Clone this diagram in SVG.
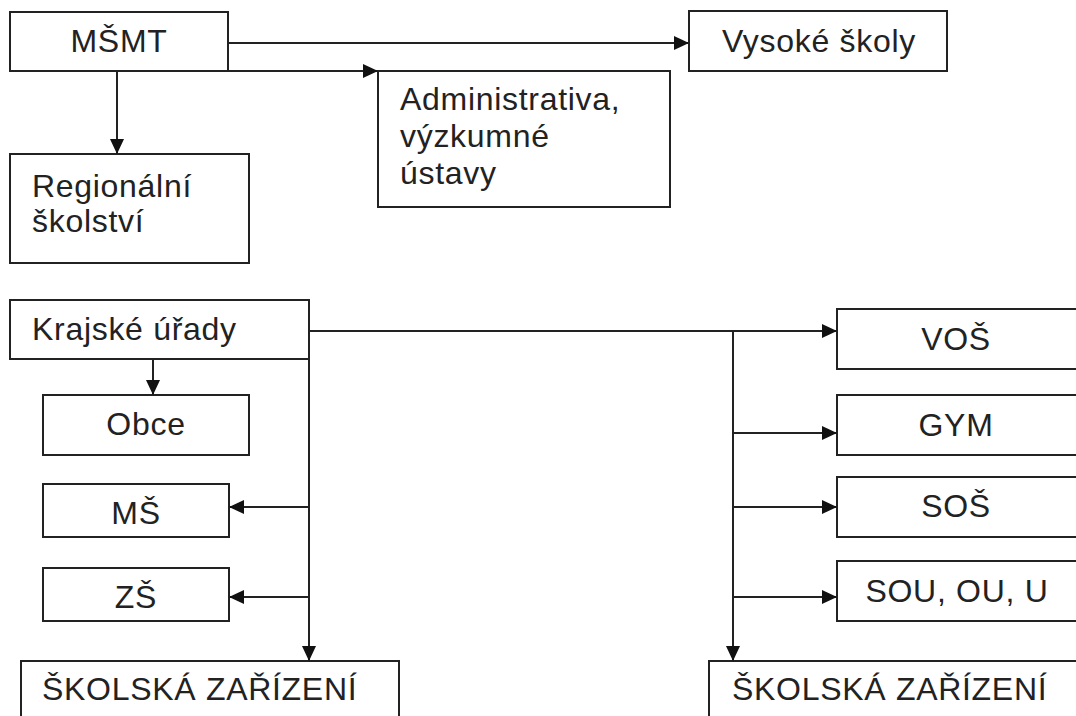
<svg xmlns="http://www.w3.org/2000/svg" width="1076" height="716" viewBox="0 0 1076 716">
<style>
.box{fill:#fff;stroke:#222;stroke-width:2}
.t{font-family:"Liberation Sans",Arial,sans-serif;font-size:32px;fill:#222;letter-spacing:0.7px}
.c{text-anchor:middle}
.ln{fill:none;stroke:#222;stroke-width:2}
</style>
<defs>
<marker id="ah" markerUnits="userSpaceOnUse" markerWidth="15" markerHeight="14" refX="15" refY="7" orient="auto">
<path d="M0,0 L15,7 L0,14 Z" fill="#111"/>
</marker>
</defs>
<rect width="1076" height="716" fill="#fff"/>
<g id="msmt"><rect class="box" x="10" y="12" width="218" height="59"/><text class="t c" x="119" y="52">MŠMT</text></g>
<g id="vysoke"><rect class="box" x="689" y="11" width="258" height="60"/><text class="t" x="722" y="52">Vysoké školy</text></g>
<g id="admin"><rect class="box" x="378" y="71" width="292" height="136"/><text class="t" x="400" y="110">Administrativa,</text><text class="t" x="400" y="147">výzkumné</text><text class="t" x="400" y="184">ústavy</text></g>
<g id="regional"><rect class="box" x="10" y="154" width="239" height="109"/><text class="t" x="32" y="197">Regionální</text><text class="t" x="32" y="232">školství</text></g>
<g id="krajske"><rect class="box" x="10" y="300" width="299" height="59"/><text class="t" x="32" y="340">Krajské úřady</text></g>
<g id="obce"><rect class="box" x="43" y="395" width="206" height="60"/><text class="t c" x="146" y="435">Obce</text></g>
<g id="ms"><rect class="box" x="43" y="484" width="186" height="53"/><text class="t c" x="136" y="524">MŠ</text></g>
<g id="zs"><rect class="box" x="43" y="568" width="186" height="53"/><text class="t c" x="136" y="608">ZŠ</text></g>
<g id="skolska-left"><rect class="box" x="21" y="661" width="378" height="70"/><text class="t" x="42" y="700">ŠKOLSKÁ ZAŘÍZENÍ</text></g>
<g id="vos"><rect class="box" x="837" y="309" width="250" height="60"/><text class="t c" x="956" y="350">VOŠ</text></g>
<g id="gym"><rect class="box" x="837" y="395" width="250" height="60"/><text class="t c" x="956" y="436">GYM</text></g>
<g id="sos"><rect class="box" x="837" y="477" width="250" height="60"/><text class="t c" x="956" y="517">SOŠ</text></g>
<g id="sou"><rect class="box" x="837" y="561" width="250" height="60"/><text class="t c" x="957" y="602">SOU, OU, U</text></g>
<g id="skolska-right"><rect class="box" x="709" y="661" width="380" height="70"/><text class="t" x="732" y="700">ŠKOLSKÁ ZAŘÍZENÍ</text></g>
<g id="connectors">
<path class="ln" d="M228,43 H689" marker-end="url(#ah)"/>
<path class="ln" d="M228,71 H378" marker-end="url(#ah)"/>
<path class="ln" d="M117,71 V154" marker-end="url(#ah)"/>
<path class="ln" d="M153,359 V395" marker-end="url(#ah)"/>
<path class="ln" d="M309,331 H837" marker-end="url(#ah)"/>
<path class="ln" d="M309,359 V661" marker-end="url(#ah)"/>
<path class="ln" d="M309,507 H229" marker-end="url(#ah)"/>
<path class="ln" d="M309,597 H229" marker-end="url(#ah)"/>
<path class="ln" d="M733,331 V661" marker-end="url(#ah)"/>
<path class="ln" d="M733,433 H837" marker-end="url(#ah)"/>
<path class="ln" d="M733,507 H837" marker-end="url(#ah)"/>
<path class="ln" d="M733,597 H837" marker-end="url(#ah)"/>
</g>
</svg>
